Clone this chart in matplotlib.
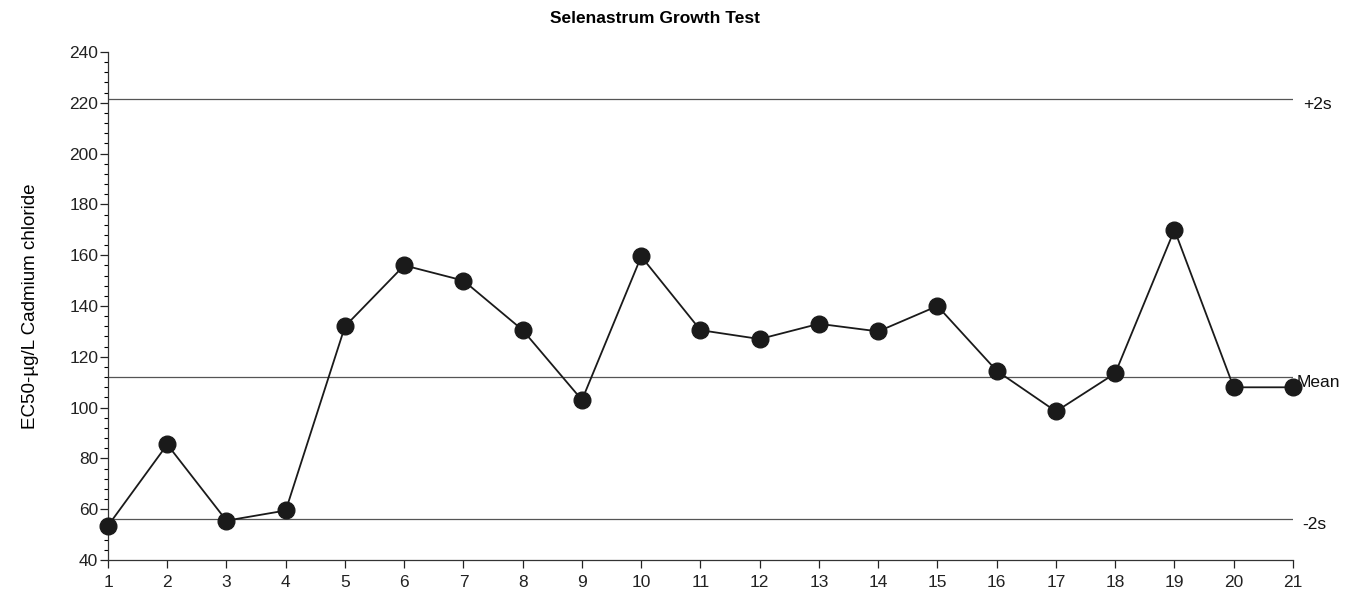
import matplotlib
matplotlib.use("Agg")
import matplotlib.pyplot as plt
from matplotlib.ticker import MultipleLocator

plt.rcParams['font.family'] = ['Liberation Sans', 'DejaVu Sans']

# Test number and EC50 result
tests = list(range(1, 22))
ec50 = [53.5, 85.5, 55.5, 59.5, 132, 156, 150, 130.5, 103, 159.5,
        130.5, 127, 133, 130, 140, 114.5, 98.5, 113.5, 170, 108, 108]

# Control limits
limit_values = [221.5, 112, 56]
limit_labels = ['+2s', 'Mean', '-2s']

fig = plt.figure(figsize=(13.45, 5.93), dpi=100)
ax = fig.add_axes([0.0803, 0.0556, 0.8810, 0.8567])

for val, lab in zip(limit_values, limit_labels):
    ax.plot([tests[0], tests[-1]], [val, val], color='#555555', lw=0.9, zorder=1)
    dx = 7 if lab != 'Mean' else 3
    ax.annotate(lab, xy=(tests[-1], val), xytext=(dx, -4),
                textcoords='offset points', va='center', ha='left',
                fontsize=12.5, color='#111111', annotation_clip=False)

ax.plot(tests, ec50, color='#1a1a1a', lw=1.3, marker='o', markersize=12,
        markerfacecolor='#1a1a1a', markeredgecolor='#1a1a1a', zorder=3,
        clip_on=False)

ax.set_xlim(1, 21)
ax.set_ylim(40, 240)
ax.set_xticks(tests)
ax.yaxis.set_major_locator(MultipleLocator(20))
ax.yaxis.set_minor_locator(MultipleLocator(4))
ax.tick_params(axis='both', which='major', direction='out', length=6,
               width=0.9, labelsize=12.5, colors='#222222')
ax.tick_params(axis='y', which='minor', direction='out', length=3, width=0.8)
ax.tick_params(axis='x', pad=5)
ax.tick_params(axis='y', pad=1)

for side in ('top', 'right'):
    ax.spines[side].set_visible(False)
for side in ('left', 'bottom'):
    ax.spines[side].set_color('#333333')
    ax.spines[side].set_linewidth(0.9)

ax.set_ylabel('EC50-µg/L Cadmium chloride', fontsize=13.5, labelpad=22)
fig.text(0.487, 0.968, 'Selenastrum Growth Test', ha='center', va='center',
         fontsize=12.5, fontweight='bold')

fig.savefig('out.png', dpi=100, facecolor='white')
